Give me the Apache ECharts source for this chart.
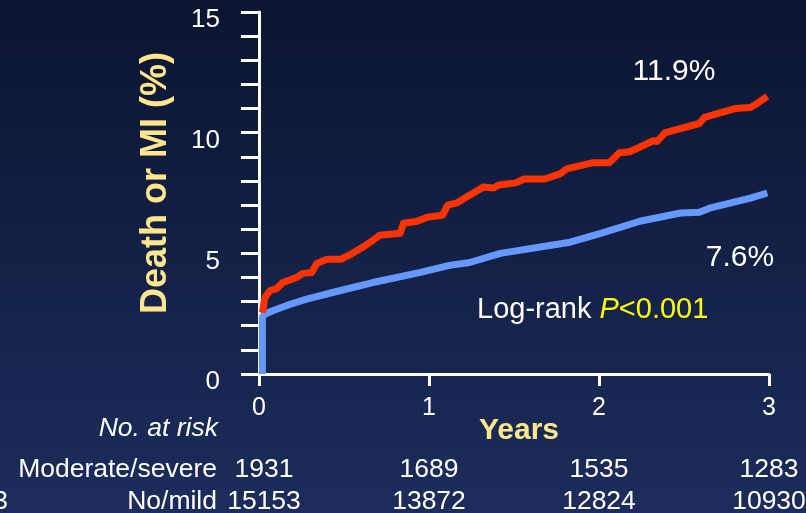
<!DOCTYPE html>
<html>
<head>
<meta charset="utf-8">
<script src="https://cdn.jsdelivr.net/npm/echarts@6/dist/echarts.min.js"></script>
<style>
html,body{margin:0;padding:0;background:#13214a;}
#c{width:806px;height:513px;}
</style>
</head>
<body>
<div id="c"></div>
<script>
// ---- data ----
const blueT = [0.02,0.02,0.04,0.08,0.18,0.28,0.48,0.67,0.95,1.12,1.24,1.42,1.83,2.01,2.24,2.48,2.59,2.65,2.77,2.89,2.99];
const blueV = [0,2.38,2.5,2.62,2.88,3.1,3.46,3.79,4.21,4.5,4.62,5.0,5.46,5.83,6.33,6.67,6.7,6.87,7.08,7.29,7.5];
const redT = [0.02,0.035,0.065,0.105,0.14,0.22,0.26,0.31,0.34,0.4,0.48,0.55,0.61,0.67,0.71,0.83,0.85,0.93,0.99,1.08,1.11,1.16,1.32,1.38,1.41,1.51,1.56,1.68,1.77,1.81,1.96,2.06,2.12,2.18,2.27,2.32,2.34,2.39,2.59,2.62,2.8,2.89,2.93,2.99];
const redV = [2.54,3.17,3.46,3.54,3.79,4.0,4.17,4.21,4.58,4.75,4.75,5.0,5.25,5.54,5.75,5.83,6.25,6.33,6.5,6.58,7.0,7.08,7.75,7.71,7.83,7.92,8.08,8.08,8.29,8.5,8.75,8.75,9.17,9.21,9.5,9.67,9.63,10.0,10.38,10.63,11.0,11.04,11.21,11.5];
const xTicks = [0,1,2,3];
const yMajor = [0,5,10,15];
const riskYears = [0,1,2,3];
const riskModerate = [1931,1689,1535,1283];
const riskNoMild = [15153,13872,12824,10930];
const rowLabels = ['Moderate/severe','No/mild'];
const endLabels = ['11.9%','7.6%'];

const FONT = "'Liberation Sans', Arial, Helvetica, sans-serif";
const chart = echarts.init(document.getElementById('c'), null, {renderer:'canvas'});

const zip = (a,b) => a.map((v,i)=>[v,b[i]]);

chart.setOption({
  backgroundColor: new echarts.graphic.LinearGradient(0,0,0,1,[
    {offset:0,color:'#0b1531'},{offset:1,color:'#1c2d5c'}
  ]),
  animation:false,
  grid:{left:259,top:12,right:37,bottom:139,containLabel:false},
  xAxis:{
    type:'value',min:0,max:3,interval:1,
    axisLine:{show:true,lineStyle:{color:'#ffffff',width:3}},
    axisTick:{show:true,length:12,lineStyle:{color:'#ffffff',width:3}},
    axisLabel:{color:'#ffffff',fontSize:25,fontFamily:FONT,margin:22,
      formatter:v=>xTicks.includes(v)?String(v):''},
    splitLine:{show:false}
  },
  yAxis:{
    type:'value',min:0,max:15,interval:1,
    axisLine:{show:true,lineStyle:{color:'#ffffff',width:3}},
    axisTick:{show:true,length:18,lineStyle:{color:'#ffffff',width:3}},
    axisLabel:{color:'#ffffff',fontSize:26,fontFamily:FONT,margin:39,
      verticalAlign:'top',lineHeight:16,
      formatter:v=>yMajor.includes(v)?String(v):''},
    splitLine:{show:false}
  },
  series:[
    {type:'line',data:zip(blueT,blueV),showSymbol:false,symbol:'none',
      lineStyle:{color:'#6699ff',width:7,join:'round'},z:2},
    {type:'line',data:zip(redT,redV),showSymbol:false,symbol:'none',
      lineStyle:{color:'#ff3300',width:7,join:'round'},z:3}
  ]
});

const px = t => chart.convertToPixel({xAxisIndex:0},t);
const g = [];
function txt(x,y,text,opt){
  g.push({type:'text',x:x,y:y,silent:true,
    style:Object.assign({text:text,fill:'#ffffff',font:'26.5px '+FONT,align:'center',verticalAlign:'middle'},opt||{})});
}
// Axis titles
g.push({type:'text',x:156,y:183,rotation:Math.PI/2,silent:true,
  style:{text:'Death or MI (%)',fill:'#ffe68c',font:'bold 36px '+FONT,align:'center',verticalAlign:'middle'}});
txt(519,431,'Years',{fill:'#ffe68c',font:'bold 30px '+FONT});
// annotations
txt(674,72,endLabels[0],{font:'30px '+FONT});
txt(740,258,endLabels[1],{font:'30px '+FONT});
g.push({type:'text',x:477,y:310,silent:true,
  style:{text:'{a|Log-rank }{b|P}{c|<0.001}',align:'left',verticalAlign:'middle',
    rich:{a:{fill:'#ffffff',font:'29px '+FONT},b:{fill:'#ffff00',font:'italic 29px '+FONT},c:{fill:'#ffff00',font:'29px '+FONT}}}});
// risk table
txt(218,429,'No. at risk',{font:'italic 26.5px '+FONT,align:'right'});
txt(217,470,rowLabels[0],{align:'right'});
txt(217,502,rowLabels[1],{align:'right'});
txt(8,502,'3',{align:'right'});
riskYears.forEach((yr,i)=>{
  const x = px(yr) + (i===0?5:0);
  txt(x,470,String(riskModerate[i]));
  txt(x,502,String(riskNoMild[i]));
});
chart.setOption({graphic:g});
</script>
</body>
</html>
